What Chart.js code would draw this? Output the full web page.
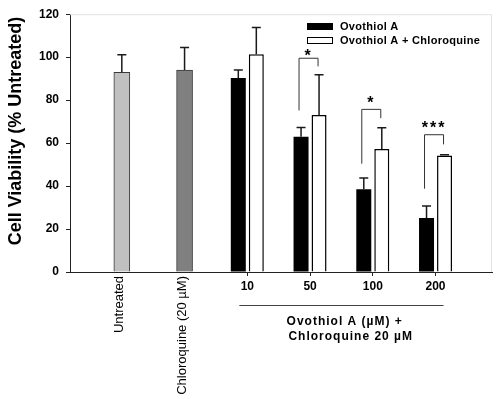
<!DOCTYPE html>
<html>
<head>
<meta charset="utf-8">
<script src="https://cdn.jsdelivr.net/npm/chart.js@4"></script>
<style>
  html, body { margin: 0; padding: 0; background: #fff; }
</style>
</head>
<body>
<canvas id="chart" width="500" height="399"></canvas>
<script>
// groups along the x axis
const groupLabels = ['Untreated', 'Chloroquine (20 µM)', '10', '50', '100', '200']
const doseGroups = [2, 3, 4, 5]

// controls (untreated, chloroquine alone)
const controlValues = [92.9, 94.0]
const controlErrors = [8.2, 10.5]

// ovothiol A alone / with chloroquine, per dose
const ovothiolValues = [90.3, 63.0, 38.5, 25.1]
const ovothiolErrors = [3.7, 4.3, 5.3, 5.6]
const comboValues = [101.4, 73.1, 57.3, 54.2]
const comboErrors = [12.4, 18.7, 9.8, 0.4]

// significance brackets (dose index, left leg bottom, top, right leg bottom, star level)
const sigDose = [1, 2, 3]
const sigText = ['*', '*', '***']
const sigLeft = [75.2, 50.4, 38.8]
const sigTop = [99.5, 75.7, 63.9]
const sigRight = [95.7, 71.6, 59.4]
const sigStar = [102.3, 80.6, 69.0]

const yTicks = [0, 20, 40, 60, 80, 100, 120]

const FONT = "'Liberation Sans', Arial, sans-serif"
Chart.defaults.font.family = FONT
Chart.defaults.color = '#000'

const drawExtras = {
  id: 'extras',
  afterDatasetsDraw(chart) {
    const ctx = chart.ctx
    const y = chart.scales.y
    const area = chart.chartArea
    ctx.save()

    // faint frame on top and right
    ctx.strokeStyle = '#e2e2e2'
    ctx.lineWidth = 1
    ctx.beginPath()
    ctx.moveTo(area.left, area.top + 0.5)
    ctx.lineTo(area.right - 0.5, area.top + 0.5)
    ctx.lineTo(area.right - 0.5, area.bottom)
    ctx.stroke()

    // error bars (upper only)
    const errs = [controlErrors, ovothiolErrors, comboErrors]
    chart.data.datasets.forEach((ds, di) => {
      const meta = chart.getDatasetMeta(di)
      meta.data.forEach((bar, i) => {
        const top = y.getPixelForValue(ds.data[i].y + errs[di][i])
        ctx.strokeStyle = '#1a1a1a'
        ctx.lineWidth = 1.5
        ctx.beginPath()
        ctx.moveTo(bar.x, bar.y)
        ctx.lineTo(bar.x, top)
        ctx.moveTo(bar.x - 4.5, top)
        ctx.lineTo(bar.x + 4.5, top)
        ctx.stroke()
      })
    })

    // significance brackets
    const m1 = chart.getDatasetMeta(1)
    const m2 = chart.getDatasetMeta(2)
    sigDose.forEach((d, k) => {
      const xl = m1.data[d].x - 2
      const xr = m2.data[d].x - 1
      const yt = y.getPixelForValue(sigTop[k])
      ctx.strokeStyle = '#333'
      ctx.lineWidth = 1
      ctx.beginPath()
      ctx.moveTo(xl, y.getPixelForValue(sigLeft[k]))
      ctx.lineTo(xl, yt)
      ctx.lineTo(xr, yt)
      ctx.lineTo(xr, y.getPixelForValue(sigRight[k]))
      ctx.stroke()
      ctx.fillStyle = '#000'
      ctx.font = 'bold 16px ' + FONT
      ctx.textAlign = 'center'
      ctx.textBaseline = 'alphabetic'
      ctx.letterSpacing = '2px'
      ctx.fillText(sigText[k], (xl + xr) / 2, y.getPixelForValue(sigStar[k]) + 9)
      ctx.letterSpacing = '0px'
    })
    ctx.restore()
  },
  afterDraw(chart) {
    const ctx = chart.ctx
    const x = chart.scales.x
    const y = chart.scales.y
    const base = y.getPixelForValue(0)
    ctx.save()
    ctx.fillStyle = '#000'

    // y axis title
    ctx.save()
    ctx.translate(16, 131)
    ctx.rotate(-Math.PI / 2)
    ctx.font = 'bold 18px ' + FONT
    ctx.textAlign = 'center'
    ctx.textBaseline = 'middle'
    ctx.fillText('Cell Viability (% Untreated)', 0, 0)
    ctx.restore()

    // x labels
    groupLabels.forEach((lab, i) => {
      const px = x.getPixelForValue(i)
      if (i < 2) {
        ctx.save()
        ctx.translate(px - 2, base + 4)
        ctx.rotate(-Math.PI / 2)
        ctx.font = '13px ' + FONT
        ctx.textAlign = 'right'
        ctx.textBaseline = 'middle'
        ctx.fillText(lab, 0, 0)
        ctx.restore()
      } else {
        ctx.font = 'bold 12px ' + FONT
        ctx.textAlign = 'center'
        ctx.textBaseline = 'middle'
        ctx.fillText(lab, px, base + 15)
      }
    })

    // dose group line and caption
    const gx0 = x.getPixelForValue(doseGroups[0]) - 8
    const gx1 = x.getPixelForValue(doseGroups[doseGroups.length - 1]) + 8
    ctx.strokeStyle = '#444'
    ctx.lineWidth = 1
    ctx.beginPath()
    ctx.moveTo(gx0, base + 33.5)
    ctx.lineTo(gx1, base + 33.5)
    ctx.stroke()
    ctx.font = 'bold 12px ' + FONT
    ctx.letterSpacing = '1px'
    ctx.textAlign = 'center'
    const cx = x.getPixelForValue(3.6)
    ctx.fillText('Ovothiol A (µM) +', cx - 3, base + 50)
    ctx.fillText('Chloroquine 20 µM', cx + 3, base + 65)
    ctx.letterSpacing = '0px'

    // legend
    const lx = 307, ly = 23
    ;[1, 2].forEach((di, k) => {
      const ds = chart.data.datasets[di]
      const by = ly + k * 14
      ctx.fillStyle = ds.backgroundColor
      ctx.fillRect(lx, by, 26, 7)
      if (ds.borderWidth) {
        ctx.strokeStyle = '#000'
        ctx.lineWidth = 1
        ctx.strokeRect(lx + 0.5, by + 0.5, 25, 6)
      }
      ctx.fillStyle = '#000'
      ctx.font = 'bold 11px ' + FONT
      ctx.letterSpacing = '0.3px'
      ctx.textAlign = 'left'
      ctx.textBaseline = 'middle'
      ctx.fillText(ds.label, lx + 33, by + 4)
    })
    ctx.restore()
  }
}

new Chart(document.getElementById('chart'), {
  type: 'bar',
  data: {
    datasets: [{
      label: 'Controls',
      data: controlValues.map((v, i) => ({ x: i, y: v })),
      backgroundColor: ['#c0c0c0', '#808080'],
      borderColor: '#3a3a3a',
      borderWidth: 1,
      grouped: false,
      barThickness: 16
    }, {
      label: 'Ovothiol A',
      data: ovothiolValues.map((v, i) => ({ x: doseGroups[i], y: v })),
      backgroundColor: '#000',
      borderWidth: 0,
      categoryPercentage: 0.574,
      barPercentage: 0.833
    }, {
      label: 'Ovothiol A + Chloroquine',
      data: comboValues.map((v, i) => ({ x: doseGroups[i], y: v })),
      backgroundColor: '#fff',
      borderColor: '#000',
      borderWidth: 1.5,
      categoryPercentage: 0.574,
      barPercentage: 0.833
    }]
  },
  options: {
    responsive: false,
    animation: false,
    devicePixelRatio: 1,
    layout: { padding: { top: 13, right: 8, left: 0, bottom: 0 } },
    plugins: { legend: { display: false }, tooltip: { enabled: false } },
    scales: {
      x: {
        type: 'linear',
        bounds: 'data',
        offset: false,
        min: -0.826,
        max: 5.9,
        afterBuildTicks: s => { s.ticks = doseGroups.map(v => ({ value: v })) },
        afterFit: s => { s.height = 127 },
        ticks: { display: false },
        grid: { offset: false, drawOnChartArea: false, tickLength: 4, color: '#222' },
        border: { color: '#222', width: 1 }
      },
      y: {
        min: 0,
        max: 120,
        afterBuildTicks: s => { s.ticks = yTicks.map(v => ({ value: v })) },
        afterFit: s => { s.width = 70 },
        ticks: { font: { size: 12, weight: 'bold' }, color: '#000', padding: 7 },
        grid: { drawOnChartArea: false, tickLength: 4, color: '#222' },
        border: { color: '#222', width: 1 }
      }
    }
  },
  plugins: [drawExtras]
})
</script>
</body>
</html>
